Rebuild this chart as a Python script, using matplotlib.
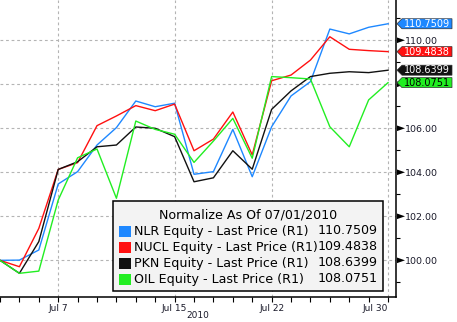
import matplotlib
matplotlib.use('Agg')
from matplotlib import pyplot as plt
from matplotlib.patches import Rectangle, Polygon
from matplotlib.ticker import FixedLocator
import numpy as np

plt.rcParams['font.family'] = 'DejaVu Sans'

W, H = 457, 322

# trading days, Jul 1 .. Jul 30 2010 (Jul 5 closed)
days = ['Jul 1', 'Jul 2', 'Jul 6', 'Jul 7', 'Jul 8', 'Jul 9', 'Jul 12', 'Jul 13',
        'Jul 14', 'Jul 15', 'Jul 16', 'Jul 19', 'Jul 20', 'Jul 21', 'Jul 22',
        'Jul 23', 'Jul 26', 'Jul 27', 'Jul 28', 'Jul 29', 'Jul 30']
labelled_days = ['Jul 7', 'Jul 15', 'Jul 22', 'Jul 30']

nlr  = [100.0, 100.01, 100.47, 103.47, 104.03, 105.24, 106.03, 107.24, 106.98, 107.14,
        103.91, 104.03, 105.95, 103.80, 106.07, 107.47, 108.12, 110.51, 110.29, 110.59, 110.7509]
nucl = [100.0, 99.71, 101.45, 104.13, 104.44, 106.12, 106.56, 107.03, 106.80, 107.10,
        104.98, 105.51, 106.74, 104.79, 108.16, 108.42, 109.10, 110.16, 109.59, 109.53, 109.4838]
pkn  = [100.0, 99.41, 100.85, 104.13, 104.48, 105.16, 105.24, 106.06, 106.00, 105.62,
        103.57, 103.75, 104.98, 104.14, 106.86, 107.70, 108.35, 108.50, 108.57, 108.53, 108.6399]
oil  = [100.0, 99.41, 99.51, 102.74, 104.66, 105.06, 102.82, 106.33, 105.95, 105.73,
        104.45, 105.42, 106.45, 104.64, 108.35, 108.30, 108.24, 106.07, 105.16, 107.29, 108.0751]

names = ['NLR Equity - Last Price (R1)', 'NUCL Equity - Last Price (R1)',
         'PKN Equity - Last Price (R1)', 'OIL Equity - Last Price (R1)']
series = [nlr, nucl, pkn, oil]
colors = ['#1e88ff', '#ff1010', '#111111', '#22ee22']
tag_text = ['white', 'white', 'white', 'black']
y_major = [100, 102, 104, 106, 108, 110]
# 108 sits under the value tags, so it gets no label
y_labels = ['100.00', '102.00', '104.00', '106.00', '', '110.00']


def fx(x):
    return x / W


def fy(y):
    return 1 - y / H


fig = plt.figure(figsize=(W / 100, H / 100), dpi=100)
ax = fig.add_axes([0, fy(297.3), fx(396), 297.3 / H])

x = np.arange(len(days))
for s, c in zip(series, colors):
    ax.plot(x, s, color=c, linewidth=1.0, zorder=3)

ax.set_xlim(0, 20.41)
ax.set_ylim(98.32, 111.83)

# grid
for d in labelled_days:
    ax.axvline(days.index(d), color='#b4b4b4', lw=0.8, ls=(0, (2.5, 2.5)), zorder=1)
for v in y_major:
    ax.axhline(v, color='#b4b4b4', lw=0.8, ls=(0, (2.5, 2.5)), zorder=1)

for sp in ['left', 'top']:
    ax.spines[sp].set_visible(False)
ax.spines['right'].set_linewidth(1.1)
ax.spines['bottom'].set_linewidth(1.1)

# x axis: a tick per trading day, labels on a few
ax.xaxis.set_major_locator(FixedLocator([days.index(d) for d in labelled_days]))
ax.xaxis.set_minor_locator(FixedLocator(x))
ax.set_xticklabels(labelled_days, fontsize=6.5, color='#1a1a2a')
ax.get_xticklabels()[-1].set_horizontalalignment('right')
ax.tick_params(axis='x', which='both', direction='out', length=3.5, width=0.8, pad=1.5)

# y axis on the right
ax.yaxis.tick_right()
ax.yaxis.set_major_locator(FixedLocator(y_major))
ax.yaxis.set_minor_locator(FixedLocator(np.arange(99, 112)))
ax.set_yticklabels(y_labels, fontsize=6.8, color='#1a1a2a')
ax.tick_params(axis='y', which='major', length=0, pad=6.6)
ax.tick_params(axis='y', which='minor', direction='out', length=3, width=0.8)

# arrow heads on the major y ticks
for v in y_major:
    yp = H - ax.transData.transform((0, v))[1]
    fig.add_artist(Polygon([(fx(397), fy(yp - 2.8)), (fx(397), fy(yp + 2.8)), (fx(405), fy(yp))],
                           closed=True, facecolor='black', edgecolor='none', zorder=4))

fig.text(fx(198), fy(315.5), '2010', fontsize=6.5, color='#1a1a2a', ha='center', va='center')

# last value tags
for s, c, tc in zip(series, colors, tag_text):
    yp = H - ax.transData.transform((0, s[-1]))[1]
    pts = [(397, yp), (402, yp - 5), (452, yp - 5), (452, yp + 5), (402, yp + 5)]
    fig.add_artist(Polygon([(fx(a), fy(b)) for a, b in pts], closed=True,
                           facecolor=c, edgecolor='#333333', lw=0.5, zorder=5))
    fig.text(fx(403.5), fy(yp), '%.4f' % s[-1], fontsize=7, color=tc,
             ha='left', va='center', zorder=6)

# legend box
fig.add_artist(Rectangle((fx(112.7), fy(291)), (383.3 - 112.7) / W, (291 - 200.7) / H,
                         facecolor='#f3f3f3', edgecolor='black', lw=1.1, zorder=7))
fig.text(fx(248), fy(215), 'Normalize As Of 07/01/2010', fontsize=9.1,
         ha='center', va='center', zorder=8)
for i, (n, s, c) in enumerate(zip(names, series, colors)):
    yc = 231 + 16 * i
    fig.add_artist(Rectangle((fx(119.3), fy(yc + 5.5)), 11.4 / W, 11 / H,
                             facecolor=c, edgecolor='none', zorder=8))
    fig.text(fx(134.3), fy(yc), n, fontsize=9.1, ha='left', va='center', zorder=8)
    fig.text(fx(377.3), fy(yc), '%.4f' % s[-1], fontsize=9.1, ha='right', va='center', zorder=8)

plt.savefig('out.png', dpi=100)
